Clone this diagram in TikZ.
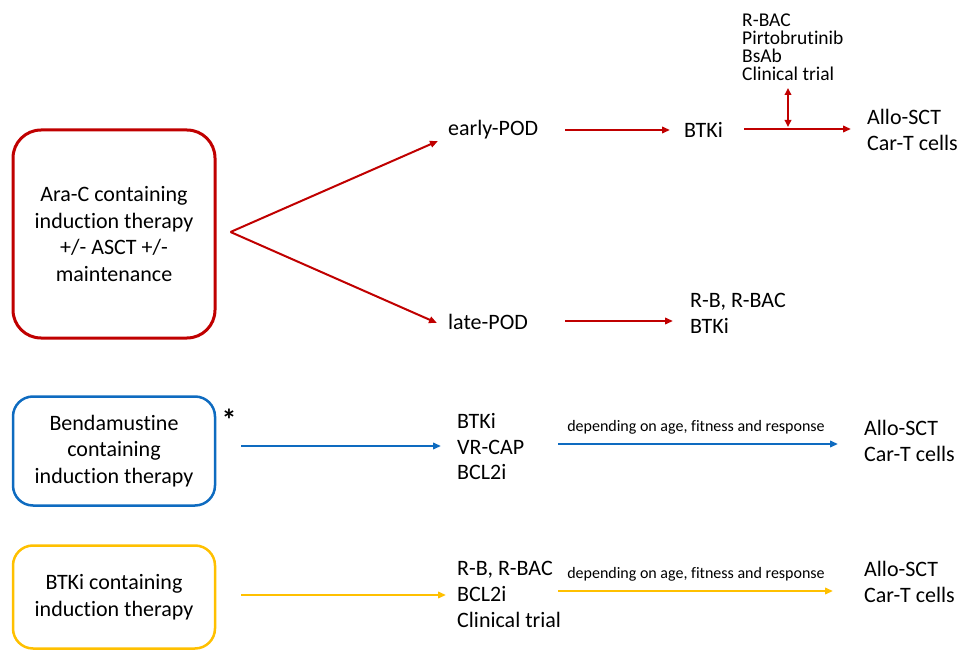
\documentclass[tikz,border=0pt]{standalone}
\usepackage{fontspec}
\setmainfont[Ligatures=NoCommon]{Carlito}
\usetikzlibrary{arrows.meta}
\definecolor{cred}{HTML}{C00000}
\definecolor{cblue}{HTML}{0E6BC0}
\definecolor{cyel}{HTML}{FFC000}
\tikzset{
  tb/.style={inner sep=0pt,anchor=west,align=left,font=\fontsize{22}{26}\selectfont},
  box/.style={draw,rounded corners=28pt,align=center,inner sep=0pt,font=\fontsize{22}{26.5}\selectfont},
  arr/.style={line width=2pt,-{Triangle[length=8pt,width=6.5pt]}},
  small/.style={inner sep=0pt,font=\fontsize{16}{18}\selectfont}
}
\begin{document}
\begin{tikzpicture}[x=1pt,y=-1pt]
\useasboundingbox (0,0) rectangle (959,650);
% boxes
\node[box,cred,line width=3pt,minimum width=202pt,minimum height=208pt,text=black] (red) at (114,234) {Ara-C containing\\induction therapy\\+/- ASCT +/-\\maintenance};
\node[box,cblue,line width=2.5pt,minimum width=202pt,minimum height=109pt,rounded corners=20pt,text=black] (blue) at (114,451) {Bendamustine\\containing\\induction therapy};
\node[box,cyel,line width=2.5pt,minimum width=202pt,minimum height=103pt,rounded corners=20pt,text=black] (yel) at (114,597) {BTKi containing\\induction therapy};
\node[inner sep=0pt,font=\fontsize{30}{30}\selectfont\bfseries] (star) at (229,420) {*};
% red branch
\coordinate (branch) at ([xshift=14pt,yshift=2pt]red.east);
\node[tb] (early) at (448,130) {early-POD};
\node[tb] (late) at (448,322) {late-POD};
\node[tb] (btk1) at (684,130) {BTKi};
\node[tb] (allo1) at (867,130) {Allo-SCT\\Car-T cells};
\node[tb,font=\fontsize{19.5}{18}\selectfont] (rbac) at (742,47) {R-BAC\\Pirtobrutinib\\BsAb\\Clinical trial};
\node[tb] (rb) at (690,313) {R-B, R-BAC\\BTKi};
\draw[arr,cred] (branch) -- ([xshift=-10pt,yshift=-11pt]early.west);
\draw[arr,cred] (branch) -- ([xshift=-11pt,yshift=-1pt]late.west);
\draw[arr,cred] ([xshift=117pt]early.west) -- ([xshift=-14pt]btk1.west);
\draw[arr,cred] ([xshift=60pt,yshift=1pt]btk1.west) -- ([xshift=-16pt,yshift=1pt]allo1.west);
\draw[arr,cred] ([xshift=117pt,yshift=1pt]late.west) -- ([xshift=-17pt,yshift=-8pt]rb.west);
\coordinate (vt) at (788,88);
\coordinate (vb) at (788,127);
\draw[cred,line width=2pt,{Triangle[length=7pt,width=6.5pt]}-{Triangle[length=7pt,width=6.5pt]}] (vt) -- (vb);
% blue row
\node[tb,font=\fontsize{22}{25.5}\selectfont] (bmid) at (457,447) {BTKi\\VR-CAP\\BCL2i};
\node[tb] (ballo) at (864,441) {Allo-SCT\\Car-T cells};
\draw[arr,cblue] ([xshift=25pt,yshift=5pt]blue.east) -- ([xshift=-16pt,yshift=1pt]bmid.west);
\draw[arr,cblue] ([xshift=101pt,yshift=3pt]bmid.west) -- ([xshift=-26pt,yshift=-3pt]ballo.west);
\node[small] (blab) at (696,427) {depending on age, fitness and response};
% yellow row
\node[tb,font=\fontsize{22}{26}\selectfont] (ymid) at (457,594) {R-B, R-BAC\\BCL2i\\Clinical trial};
\node[tb] (yallo) at (864,582) {Allo-SCT\\Car-T cells};
\draw[arr,cyel] ([xshift=25pt,yshift=2pt]yel.east) -- ([xshift=-11pt,yshift=-1pt]ymid.west);
\draw[arr,cyel] ([xshift=101pt,yshift=3pt]ymid.west) -- ([xshift=-31pt,yshift=-9pt]yallo.west);
\node[small] (ylab) at (696,574) {depending on age, fitness and response};
\end{tikzpicture}
\end{document}
